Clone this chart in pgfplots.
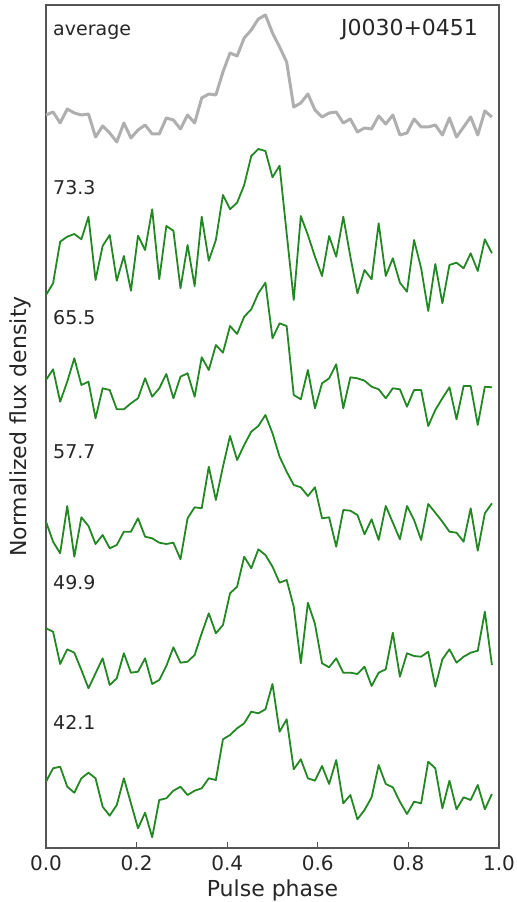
\documentclass[border=0pt]{standalone}
\usepackage{fontspec}
\setmainfont{DejaVu Sans}
\usepackage{pgfplots}
\usepackage{pgfplotstable}
\pgfplotsset{compat=1.18}
\definecolor{pgreen}{RGB}{35,135,35}
\definecolor{pgray}{RGB}{175,175,175}
\definecolor{axgray}{RGB}{85,85,85}
% phase, average, 73.3, 65.5, 57.7, 49.9, 42.1 (offset profiles, arbitrary units)
\pgfplotstableread{
phase avg p733 p655 p577 p499 p421
0 -115 -295 -380 -521.7 -628.3 -781.7
0.015625 -112 -283.3 -369.3 -541.7 -631.7 -768.3
0.03125 -123 -241.7 -401.7 -553.3 -664 -766.7
0.046875 -109 -236.7 -381.7 -506 -649.3 -786.7
0.0625 -113 -234 -358.3 -556.7 -652.7 -792.7
0.078125 -115 -239.3 -385 -517.3 -670 -778.3
0.09375 -114 -216.7 -381.7 -526 -688.3 -772.7
0.109375 -137 -280 -418.3 -544 -673.3 -778.3
0.125 -126 -246 -388.3 -535 -658.3 -806.7
0.140625 -133 -235 -390 -548.3 -685 -815.7
0.15625 -142 -280.7 -409.3 -545 -678.3 -805
0.171875 -123 -256 -409.3 -531.7 -653.3 -778.3
0.1875 -138 -290.7 -403.3 -531.7 -672.7 -803.3
0.203125 -130 -235.7 -398.3 -518.3 -671.7 -828.3
0.21875 -125 -250 -378.3 -536.7 -658.3 -812.7
0.234375 -134 -209.3 -396.7 -538.3 -684 -837.3
0.25 -134 -279.3 -388.3 -542.7 -680 -800
0.265625 -118 -226 -374 -544 -666 -798.3
0.28125 -120 -230.7 -398.3 -542.7 -647.3 -790.7
0.296875 -129 -288.3 -376.7 -559.3 -662.7 -786.7
0.3125 -115 -245 -373.3 -518.3 -661.7 -795
0.328125 -123 -286 -396.7 -507.3 -655 -790.7
0.34375 -98 -216.7 -357.3 -508.3 -633.3 -788.3
0.359375 -94 -260.7 -370 -466.7 -613.3 -778.3
0.375 -95 -240 -345 -500 -633.3 -780
0.390625 -72 -195 -352.7 -466.7 -625 -739.3
0.40625 -53 -209.3 -326 -436 -593.3 -735
0.421875 -56 -202.7 -334 -460 -586.7 -728.3
0.4375 -38 -185 -316.7 -445 -556.7 -723.3
0.453125 -30 -156 -309.3 -431.7 -568.3 -711.7
0.46875 -19 -149 -293.3 -426 -549.3 -713.3
0.484375 -15 -151 -282.7 -415 -555 -709.3
0.5 -33 -177.3 -338.3 -433.3 -566.7 -684
0.515625 -47 -165.7 -323.3 -456.7 -582.7 -731.7
0.53125 -62 -233.3 -326 -471.7 -580 -719.3
0.546875 -107 -300 -395 -485 -606.7 -769.3
0.5625 -103 -216 -399.3 -487.3 -663.3 -759.3
0.578125 -94 -235 -370 -496 -602.7 -778.3
0.59375 -110 -256.7 -408.3 -487.3 -624 -780.7
0.609375 -117 -276 -383.3 -518.3 -663.3 -766
0.625 -113 -236 -378.3 -517.3 -667.3 -784
0.640625 -112 -256.7 -364.3 -546.7 -658.3 -760
0.65625 -123 -216.7 -408.3 -510 -672.7 -803.3
0.671875 -119 -256.7 -377.3 -510.7 -672.7 -795
0.6875 -132 -293.3 -378.3 -515 -674 -819.3
0.703125 -128 -270 -380.7 -534.3 -666.7 -810
0.71875 -129 -279.3 -386.7 -519.3 -686 -797.3
0.734375 -116 -223.3 -389.3 -540 -672.7 -765
0.75 -124 -276 -398.3 -506 -669.3 -784
0.765625 -115 -258.3 -388.3 -522.7 -632.7 -787.3
0.78125 -135 -282.7 -389.3 -539.3 -676.7 -801.7
0.796875 -133 -291.7 -406.7 -506 -653.3 -814
0.8125 -119 -240 -390 -520 -656 -801.7
0.828125 -127 -268.3 -390 -540 -656.7 -803.3
0.84375 -127 -311 -426 -504 -651.7 -761.7
0.859375 -125 -264 -410 -512.7 -686.7 -768.3
0.875 -135 -303.3 -398.3 -521.7 -659.3 -808.3
0.890625 -118 -265 -387.3 -531.7 -649.3 -780.7
0.90625 -137 -262.7 -419.3 -532.7 -662.7 -809.3
0.921875 -127 -268.3 -386 -541.7 -656.7 -797.3
0.9375 -117 -253.3 -386 -508.3 -652.7 -800
0.953125 -135 -271 -425 -550.7 -650.7 -785
0.96875 -111 -239.3 -386.7 -513.3 -611.7 -809.3
0.984375 -117 -253.3 -387.3 -503.3 -665 -794
}\profiles
\begin{document}
\begin{tikzpicture}
\begin{axis}[
  scale only axis,
  width=453bp, height=843bp,
  xmin=0, xmax=1, ymin=-848, ymax=-5,
  xtick={0,0.2,0.4,0.6,0.8,1.0},
  ytick=\empty,
  xtick pos=bottom,
  tick align=inside,
  major tick length=6bp,
  tick style={line width=1bp, axgray},
  axis line style={line width=1.8bp, axgray},
  /pgf/number format/assume math mode=true,
  xticklabel style={/pgf/number format/.cd, fixed, fixed zerofill, precision=1, /tikz/.cd,
     font=\fontsize{20bp}{24bp}\selectfont, text=black!85, inner sep=0pt, yshift=-7bp},
  xlabel={Pulse phase},
  ylabel={Normalized flux density},
  xlabel style={font=\fontsize{22bp}{26bp}\selectfont, text=black!85, at={(axis description cs:0.5,0)}, anchor=north, inner sep=0pt, yshift=-32bp},
  ylabel style={font=\fontsize{22bp}{26bp}\selectfont, text=black!85, at={(axis description cs:-0.0574,0.5)}, anchor=center, inner sep=0pt},
]
\addplot[pgray, line width=3bp, line join=round] table[x=phase, y=avg] {\profiles};
\addplot[pgreen, line width=1.8bp, line join=round] table[x=phase, y=p733] {\profiles};
\addplot[pgreen, line width=1.8bp, line join=round] table[x=phase, y=p655] {\profiles};
\addplot[pgreen, line width=1.8bp, line join=round] table[x=phase, y=p577] {\profiles};
\addplot[pgreen, line width=1.8bp, line join=round] table[x=phase, y=p499] {\profiles};
\addplot[pgreen, line width=1.8bp, line join=round] table[x=phase, y=p421] {\profiles};
\node[anchor=west, inner sep=0pt, font=\fontsize{19bp}{23bp}\selectfont, text=black!85] at (axis cs:0.0155,-32) {average};
\node[anchor=east, inner sep=0pt, font=\fontsize{22bp}{26bp}\selectfont, text=black!85] at (axis cs:0.954,-30) {J0030+0451};
\node[anchor=west, inner sep=0pt, font=\fontsize{19bp}{23bp}\selectfont, text=black!85] at (axis cs:0.0155,-188) {73.3};
\node[anchor=west, inner sep=0pt, font=\fontsize{19bp}{23bp}\selectfont, text=black!85] at (axis cs:0.0155,-318) {65.5};
\node[anchor=west, inner sep=0pt, font=\fontsize{19bp}{23bp}\selectfont, text=black!85] at (axis cs:0.0155,-452) {57.7};
\node[anchor=west, inner sep=0pt, font=\fontsize{19bp}{23bp}\selectfont, text=black!85] at (axis cs:0.0155,-583) {49.9};
\node[anchor=west, inner sep=0pt, font=\fontsize{19bp}{23bp}\selectfont, text=black!85] at (axis cs:0.0155,-722) {42.1};
\end{axis}
\pgfresetboundingbox
\path ([shift={(-46bp,-54bp)}]current axis.south west) rectangle ([shift={(18bp,5bp)}]current axis.north east);
\end{tikzpicture}
\end{document}
